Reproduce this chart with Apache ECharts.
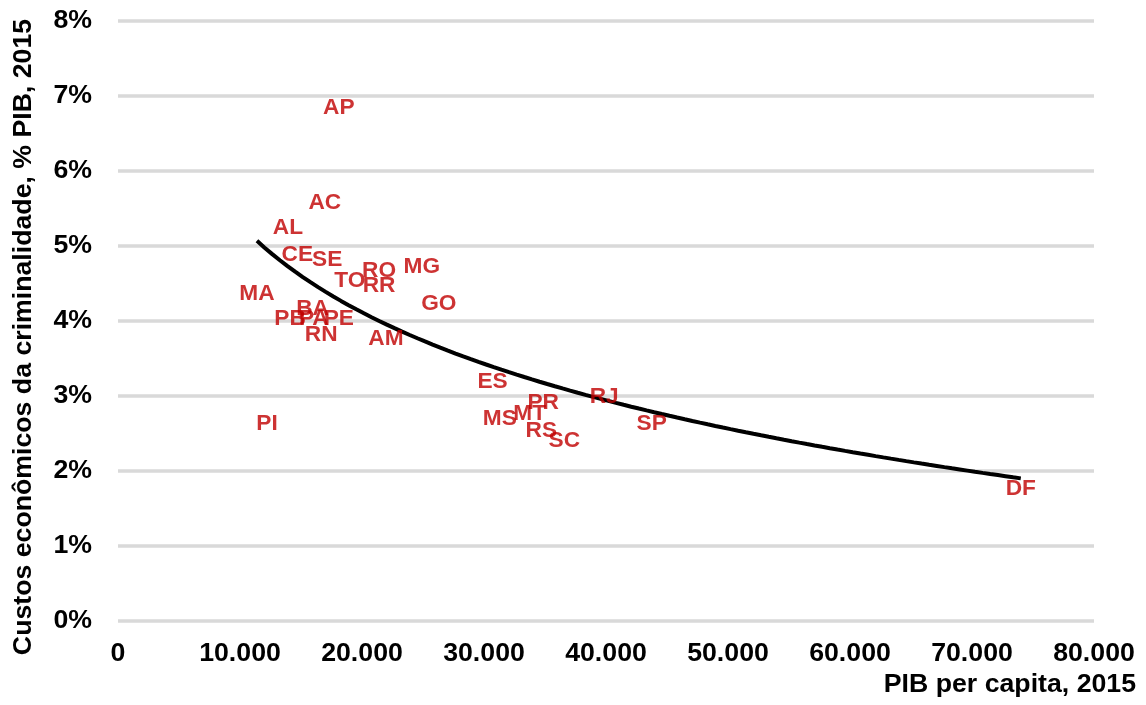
<!DOCTYPE html>
<html>
<head>
<meta charset="utf-8">
<script src="https://cdn.jsdelivr.net/npm/echarts@6/dist/echarts.min.js"></script>
<style>
html,body{margin:0;padding:0;background:#fff;}
#chart{width:1146px;height:705px;}
</style>
</head>
<body>
<div id="chart"></div>
<script>
// Data: state, GDP per capita 2015 (R$), economic cost of crime (% GDP) 2015
const states = ["AP","AC","AL","CE","SE","TO","RO","RR","MG","GO","MA","BA","PB","PA","PE","RN","AM","PI","ES","MS","MT","PR","RS","SC","RJ","SP","DF"];
const pibPerCapita = [18100,16950,13930,14700,17150,19000,21400,21400,24900,26300,11390,15950,14100,16050,18100,16650,21960,12210,30700,31300,33750,34850,34700,36580,39850,43750,74000];
const custoCrime = [6.87,5.61,5.27,4.91,4.84,4.57,4.70,4.50,4.75,4.26,4.39,4.19,4.06,4.06,4.06,3.84,3.79,2.66,3.22,2.73,2.79,2.94,2.57,2.43,3.02,2.66,1.79];
const xTicks = [0,10000,20000,30000,40000,50000,60000,70000,80000];
const yTicks = [0,1,2,3,4,5,6,7,8];
const xTitle = "PIB per capita, 2015";
const yTitle = "Custos econômicos da criminalidade, % PIB, 2015";

// Logarithmic trendline fitted (least squares) to the data
const n = pibPerCapita.length;
let sx=0, sy=0, sxx=0, sxy=0;
for (let i=0;i<n;i++){ const lx=Math.log(pibPerCapita[i]); sx+=lx; sy+=custoCrime[i]; sxx+=lx*lx; sxy+=lx*custoCrime[i]; }
const b = (n*sxy - sx*sy)/(n*sxx - sx*sx);
const a = (sy - b*sx)/n;
const xmin = Math.min(...pibPerCapita), xmax = Math.max(...pibPerCapita);
const trend = [];
for (let k=0;k<=100;k++){ const x = xmin + (xmax-xmin)*k/100; trend.push([x, a + b*Math.log(x)]); }

const FONT = "'Liberation Sans', Arial, Helvetica, sans-serif";
const fmtThousands = v => v===0 ? "0" : String(v).replace(/\B(?=(\d{3})+(?!\d))/g, ".");

const chart = echarts.init(document.getElementById('chart'), null, {renderer:'canvas'});
chart.setOption({
  animation:false,
  backgroundColor:'#ffffff',
  grid:{left:118, right:52, top:21, bottom:84, containLabel:false},
  xAxis:{
    type:'value', min:xTicks[0], max:xTicks[xTicks.length-1], interval:10000,
    axisLine:{show:false}, axisTick:{show:false}, splitLine:{show:false},
    axisLabel:{color:'#000', fontFamily:FONT, fontWeight:'bold', fontSize:26.7, margin:19, formatter:fmtThousands}
  },
  yAxis:{
    type:'value', min:yTicks[0], max:yTicks[yTicks.length-1], interval:1,
    axisLine:{show:false}, axisTick:{show:false},
    splitLine:{show:true, lineStyle:{color:'#d9d9d9', width:3.5}},
    axisLabel:{color:'#000', fontFamily:FONT, fontWeight:'bold', fontSize:26.7, margin:26, formatter:'{value}%'}
  },
  graphic:[
    {type:'text', right:10, top:671, style:{text:xTitle, fill:'#000', font:"bold 26.7px "+FONT, textAlign:'right'}},
    {type:'text', x:24, y:337, rotation:Math.PI/2, style:{text:yTitle, fill:'#000', font:"bold 26.7px "+FONT, textAlign:'center', textVerticalAlign:'middle'}}
  ],
  series:[
    {
      type:'line', data:trend, showSymbol:false, symbol:'none', smooth:false,
      lineStyle:{color:'#000', width:4}, z:2, silent:true
    },
    {
      type:'scatter', symbolSize:0, z:3, itemStyle:{color:'#C00000'},
      data: states.map((s,i)=>({name:s, value:[pibPerCapita[i], custoCrime[i]]})),
      label:{show:true, position:'inside', offset:[0,2], formatter:p=>p.name, color:'#C00000', textBorderWidth:0, textShadowBlur:0,
             fontFamily:FONT, fontWeight:'bold', fontSize:22.7}
    }
  ]
});
</script>
</body>
</html>
